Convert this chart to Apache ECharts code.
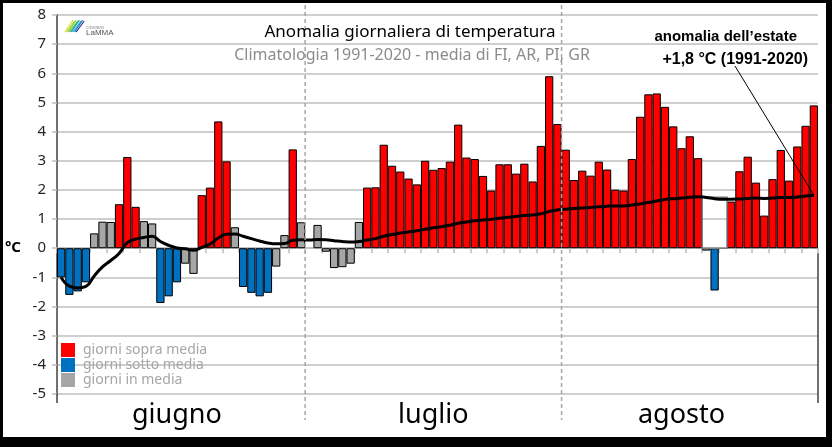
<!DOCTYPE html>
<html><head><meta charset="utf-8">
<script src="https://cdn.jsdelivr.net/npm/echarts@6/dist/echarts.min.js"></script>
<style>
html,body{margin:0;padding:0;background:#000;width:832px;height:447px;overflow:hidden}
#c{position:absolute;left:3px;top:3px;width:823px;height:434px;background:#fff}
</style></head><body><div id="c"></div>
<script>
// ---- data ----
const mesi = ['giugno', 'luglio', 'agosto'];
const giorniMese = [30, 31, 31];
// daily anomaly (°C)
const anomGiugno = [-1.0,-1.6,-1.48,-1.17,0.51,0.91,0.9,1.51,3.13,1.42,0.93,0.85,-1.88,-1.65,-1.17,-0.53,-0.88,1.82,2.08,4.35,2.98,0.72,-1.33,-1.53,-1.65,-1.53,-0.63,0.45,3.39,0.89];
const anomLuglio = [null,0.8,-0.12,-0.68,-0.65,-0.53,0.9,2.08,2.09,3.55,2.83,2.63,2.39,2.19,3.0,2.69,2.75,2.97,4.24,3.11,3.06,2.48,1.98,2.88,2.88,2.56,2.9,2.29,3.51,5.9,4.26];
const anomAgosto = [3.38,2.34,2.66,2.49,2.97,2.70,2.01,1.98,3.06,4.51,5.28,5.31,4.85,4.18,3.43,3.84,3.09,-0.08,-1.45,null,1.6,2.64,3.14,2.25,1.12,2.37,3.37,2.32,3.49,4.2,4.9];
// class of each day: R = sopra media, B = sotto media, M = in media, - = no data
const classeGiugno = 'BBBBMMMRRRMMBBBMMRRRRMBBBBMMRM';
const classeLuglio = '-MMMMMMRRRRRRRRRRRRRRRRRRRRRRRR';
const classeAgosto = 'RRRRRRRRRRRRRRRRRMB-RRRRRRRRRRR';
// running seasonal anomaly (line)
const mediaGiugno = [-1.0,-1.3,-1.36,-1.31,-0.95,-0.64,-0.42,-0.18,0.19,0.31,0.37,0.41,0.23,0.10,0.01,-0.02,-0.07,0.03,0.14,0.35,0.48,0.49,0.41,0.33,0.25,0.18,0.15,0.16,0.27,0.29];
const mediaLuglio = [0.28,0.30,0.29,0.26,0.23,0.21,0.23,0.28,0.33,0.41,0.47,0.52,0.56,0.60,0.65,0.70,0.74,0.79,0.86,0.90,0.94,0.97,0.99,1.03,1.06,1.09,1.12,1.14,1.18,1.26,1.31];
const mediaAgosto = [1.34,1.36,1.38,1.40,1.42,1.44,1.45,1.45,1.48,1.52,1.57,1.62,1.67,1.70,1.72,1.75,1.77,1.74,1.70,1.68,1.68,1.69,1.71,1.72,1.71,1.72,1.74,1.74,1.76,1.79,1.82];
const anomaliaEstate = 1.82;
const missingBox = [78, 80, 1.75];   // first day, last day, height

// ---- build ----
const giorni = [];
mesi.forEach((m, k) => { for (let d = 1; d <= giorniMese[k]; d++) giorni.push(d + ' ' + m); });
const anom = anomGiugno.concat(anomLuglio, anomAgosto);
const classe = (classeGiugno + classeLuglio + classeAgosto).split('');
const media = mediaGiugno.concat(mediaLuglio, mediaAgosto);
const pick = c => anom.map((v, i) => classe[i] === c ? v : null);
const monthStart = [0, giorniMese[0], giorniMese[0] + giorniMese[1]];
const labelIdx = {14: 'giugno', 45: 'luglio', 75: 'agosto'};

const grid = '#bfbfbf';
const barBase = {
  type: 'bar', stack: 'g', barCategoryGap: '0%', xAxisIndex: 0, yAxisIndex: 0
};
const option = {
  animation: false,
  textStyle: {fontFamily: 'Noto Sans'},
  grid: {left: 54, right: 8, top: 12, bottom: 43, containLabel: false},
  legend: {
    orient: 'vertical', left: 58, top: 340, padding: 0, itemWidth: 14, itemHeight: 14, itemGap: 1,
    icon: 'rect', itemStyle: {borderWidth: 0},
    textStyle: {fontSize: 14, color: '#a6a6a6', padding: [0, 0, 0, 3], fontFamily: 'Noto Sans'},
    data: ['giorni sopra media', 'giorni sotto media', 'giorni in media']
  },
  xAxis: [{
    type: 'category', data: giorni, boundaryGap: true,
    axisLine: {onZero: true, lineStyle: {color: grid, width: 1.5}},
    axisTick: {show: true, interval: 1, length: 5, lineStyle: {color: grid, width: 1.5}},
    axisLabel: {show: false}, splitLine: {show: false}
  }, {
    type: 'category', data: giorni, position: 'bottom', boundaryGap: true,
    axisLine: {show: false, onZero: false}, axisTick: {show: false}, splitLine: {show: false},
    axisLabel: {
      interval: (i) => labelIdx[i] !== undefined,
      formatter: (v, i) => labelIdx[i] || '',
      fontSize: 27, color: '#000', margin: 8, fontFamily: 'Noto Sans'
    }
  }],
  yAxis: {
    type: 'value', min: -5, max: 8, interval: 1,
    axisLine: {show: true, lineStyle: {color: '#404040', width: 1.5}},
    axisTick: {show: true, length: 5, lineStyle: {color: grid, width: 1.5}},
    splitLine: {lineStyle: {color: grid, width: 1.5}},
    axisLabel: {fontSize: 15, color: '#262626', margin: 11, fontFamily: 'Noto Sans'}
  },
  series: [
    Object.assign({}, barBase, {name: 'giorni sopra media', data: pick('R'), itemStyle: {color: '#ff0000', borderColor: '#000', borderWidth: 1}}),
    Object.assign({}, barBase, {name: 'giorni sotto media', data: pick('B'), itemStyle: {color: '#0070c0', borderColor: '#000', borderWidth: 1}}),
    Object.assign({}, barBase, {name: 'giorni in media', data: pick('M'), itemStyle: {color: '#a6a6a6', borderColor: '#000', borderWidth: 1}}),
    {name: 'dati mancanti', type: 'custom', xAxisIndex: 0, yAxisIndex: 0, silent: true, z: 3,
     data: [missingBox], encode: {x: [0, 1], y: 2},
     renderItem: (params, api) => {
       const a = api.coord([api.value(0), 0]);
       const b = api.coord([api.value(1), api.value(2)]);
       const w = api.size([1, 0])[0];
       return {type: 'rect', shape: {x: a[0] - w / 2, y: b[1], width: b[0] - a[0] + w, height: a[1] - b[1]},
               style: {fill: 'none', stroke: '#7f7f7f', lineWidth: 1.5}};
     }},
    {name: 'anomalia cumulata', type: 'line', data: media, smooth: true, symbol: 'none',
     lineStyle: {color: '#000', width: 3}, z: 5}
  ]
};
const chart = echarts.init(document.getElementById('c'));
chart.setOption(option);

// ---- decorations positioned through the chart's own scales ----
const px = (i, v) => chart.convertToPixel({xAxisIndex: 0, yAxisIndex: 0}, [i, v]);
const band = px(1, 0)[0] - px(0, 0)[0];
const edge = i => px(i, 0)[0] - band / 2;
const yv = v => px(0, v)[1];
const xL = edge(0), xR = edge(giorni.length), yB = yv(-5);
const g = [];
// month separators
[monthStart[1], monthStart[2]].forEach(i => {
  g.push({type: 'line', z: 10, shape: {x1: edge(i), y1: 2, x2: edge(i), y2: 417},
    style: {stroke: '#a6a6a6', lineWidth: 1.5, lineDash: [4, 3]}});
});
// axis extensions
g.push({type: 'line', z: 10, shape: {x1: xL, y1: yB, x2: xL, y2: yB + 9}, style: {stroke: '#404040', lineWidth: 1.5}});
g.push({type: 'line', z: 10, shape: {x1: xR, y1: yv(0) + 5, x2: xR, y2: yB + 9}, style: {stroke: '#404040', lineWidth: 1.5}});
// pointer to final value
const endPt = px(giorni.length - 1, anomaliaEstate);
g.push({type: 'line', z: 10, shape: {x1: 732, y1: 63, x2: endPt[0], y2: endPt[1]}, style: {stroke: '#000', lineWidth: 1}});
// texts
g.push({type: 'text', z: 10, x: 407, y: 29, style: {text: 'Anomalia giornaliera di temperatura', fontSize: 17, fontFamily: 'Noto Sans', fill: '#000', align: 'center', verticalAlign: 'middle'}});
g.push({type: 'text', z: 10, x: 409, y: 52, style: {text: 'Climatologia 1991-2020 - media di FI, AR, PI, GR', fontSize: 16, fontFamily: 'Noto Sans', fill: '#8c8c8c', align: 'center', verticalAlign: 'middle'}});
g.push({type: 'text', z: 10, x: 794, y: 34, style: {text: 'anomalia dell\u2019estate', fontSize: 15, fontWeight: 'bold', fontFamily: 'Liberation Sans', fill: '#000', align: 'right', verticalAlign: 'middle'}});
g.push({type: 'text', z: 10, x: 805, y: 57, style: {text: '+1,8 \u00b0C (1991-2020)', fontSize: 16, fontWeight: 'bold', fontFamily: 'Liberation Sans', fill: '#000', align: 'right', verticalAlign: 'middle'}});
g.push({type: 'text', z: 10, x: 2, y: 245, style: {text: '\u00b0C', fontSize: 15, fontWeight: 'bold', fontFamily: 'Noto Sans', fill: '#000', align: 'left', verticalAlign: 'middle'}});
// logo
const logoCols = ['#d7df23', '#b5d334', '#8cc63f', '#39b54a', '#00a99d', '#29abe2', '#1b75bb', '#2e3192'];
logoCols.forEach((c, k) => {
  g.push({type: 'line', z: 10, shape: {x1: 62 + k * 1.6, y1: 29, x2: 70 + k * 1.6, y2: 17 + (k % 2)}, style: {stroke: c, lineWidth: 1.2}});
});
g.push({type: 'text', z: 10, x: 83, y: 25, style: {text: 'CONSORZIO', fontSize: 3, fill: '#777', align: 'left', verticalAlign: 'middle'}});
g.push({type: 'text', z: 10, x: 83, y: 30, style: {text: 'LaMMA', fontSize: 8, fontFamily: 'Liberation Sans', fill: '#555', align: 'left', verticalAlign: 'middle'}});
chart.setOption({graphic: g});
</script></body></html>
